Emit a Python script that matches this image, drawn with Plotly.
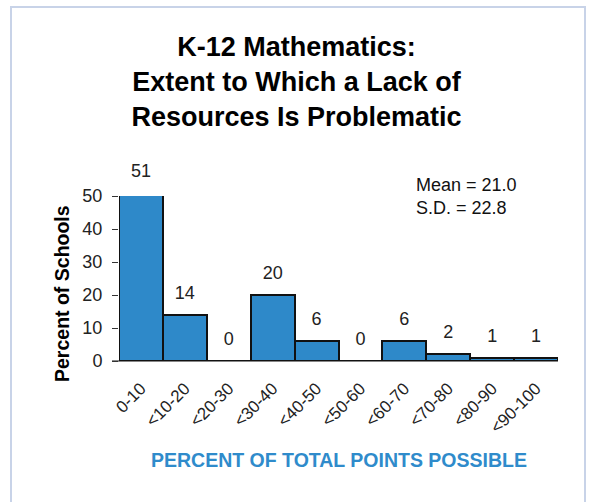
import plotly.graph_objects as go

# Score bins and the share of schools falling in each
bins = ["0-10", "<10-20", "<20-30", "<30-40", "<40-50",
        "<50-60", "<60-70", "<70-80", "<80-90", "<90-100"]
percent_schools = [51, 14, 0, 20, 6, 0, 6, 2, 1, 1]
y_ticks = [0, 10, 20, 30, 40, 50]
y_max = 50

title_lines = ["K-12 Mathematics:", "Extent to Which a Lack of",
               "Resources Is Problematic"]
stats_text = ["Mean = 21.0", "S.D. = 22.8"]

BAR_BLUE = "#2e89c9"
FONT = "Liberation Sans, Arial, sans-serif"

# page geometry (pixels)
W, H = 589, 502
M_L, M_R, M_T, M_B = 119, 31, 150, 141
BAR_AREA_H = 165                      # height used by the 0-50 value range
plot_w = W - M_L - M_R
plot_h = H - M_T - M_B
bar_top = BAR_AREA_H / plot_h         # domain fraction of the bar axis
base_px = H - M_B                     # pixel row of the zero line


def px_x(px):
    return (px - M_L) / plot_w


def px_y(py):
    return (base_px - py) / plot_h


fig = go.Figure()

fig.add_trace(go.Bar(
    x=bins,
    y=percent_schools,
    marker=dict(color=BAR_BLUE, line=dict(color="#111111", width=2)),
    hoverinfo="skip",
    showlegend=False,
))

# value labels above each bar, on a taller twin axis with the same scale
# so the label of the bar that overflows the range is still shown
fig.add_trace(go.Scatter(
    x=bins,
    y=percent_schools,
    yaxis="y2",
    mode="markers+text",
    text=[str(v) for v in percent_schools],
    textposition="top center",
    textfont=dict(family=FONT, size=18, color="#222222"),
    marker=dict(size=17, opacity=0),
    cliponaxis=False,
    hoverinfo="skip",
    showlegend=False,
))

fig.update_layout(
    width=W,
    height=H,
    margin=dict(l=M_L, r=M_R, t=M_T, b=M_B),
    paper_bgcolor="white",
    plot_bgcolor="rgba(0,0,0,0)",
    bargap=0,
    title=dict(
        text="<br>".join(title_lines),
        font=dict(family=FONT, size=27, color="#000000", weight="bold"),
        x=0.5035, xanchor="center",
        y=1 - 56 / H, yanchor="middle",
        xref="container", yref="container",
    ),
    xaxis=dict(
        type="category",
        range=[-0.5, len(bins) - 0.5],
        anchor="y",
        showgrid=False,
        showline=False,
        zeroline=False,
        ticks="outside",
        ticklen=10,
        tickcolor="rgba(0,0,0,0)",
        tickangle=-45,
        tickfont=dict(family=FONT, size=17, color="#222222"),
    ),
    yaxis=dict(
        domain=[0, bar_top],
        range=[0, y_max],
        tickvals=y_ticks,
        showgrid=False,
        showline=False,
        zeroline=False,
        ticks="outside",
        ticklen=6,
        tickcolor="#333333",
        ticklabelstandoff=6,
        tickfont=dict(family=FONT, size=18, color="#222222"),
    ),
    yaxis2=dict(
        domain=[0, 1],
        range=[0, y_max / bar_top],
        anchor="x",
        visible=False,
        showgrid=False,
        zeroline=False,
    ),
    annotations=[
        dict(
            text="<b>Percent of Schools</b>",
            xref="paper", yref="paper",
            x=px_x(62), y=px_y(293), xanchor="center", yanchor="middle",
            textangle=-90, showarrow=False,
            font=dict(family=FONT, size=19.5, color="#000000"),
        ),
        dict(
            text="<br>".join(stats_text),
            xref="paper", yref="paper",
            x=px_x(414), y=px_y(173), xanchor="left", yanchor="top",
            align="left", showarrow=False,
            font=dict(family=FONT, size=18, color="#111111"),
        ),
        dict(
            text="<b>PERCENT OF TOTAL POINTS POSSIBLE</b>",
            xref="paper", yref="paper",
            x=px_x(339), y=px_y(460), xanchor="center", yanchor="middle",
            showarrow=False,
            font=dict(family=FONT, size=19.5, color="#2f8bcb"),
        ),
    ],
    shapes=[
        # baseline, running slightly past the tick marks
        dict(type="line", xref="paper", yref="paper",
             x0=px_x(112), x1=1.0, y0=0, y1=0,
             line=dict(color="#111111", width=1.2), layer="below"),
        # light frame around the chart
        dict(type="path", xref="paper", yref="paper",
             path=(f"M {px_x(11)},{px_y(H + 20)} L {px_x(11)},{px_y(7)} "
                   f"L {px_x(585)},{px_y(7)} L {px_x(585)},{px_y(H + 20)}"),
             line=dict(color="#c8d3e8", width=2)),
    ],
)

fig.write_html("out.html")
